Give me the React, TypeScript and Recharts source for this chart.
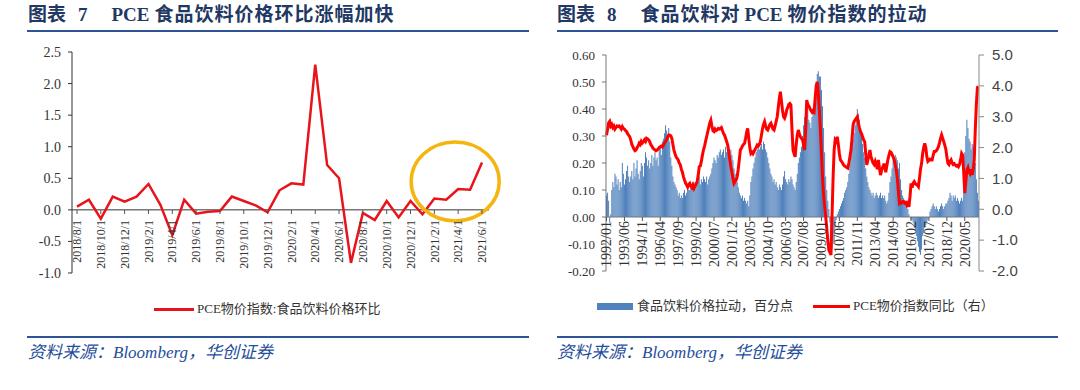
import React from "react"
import {
  LineChart,
  Line,
  ComposedChart,
  Bar,
  XAxis,
  YAxis,
  ReferenceLine,
  ReferenceDot,
} from "recharts"

// 图表7：PCE 食品饮料价格环比（%）
const leftDates = [
  "2018/8/1", "2018/9/1", "2018/10/1", "2018/11/1", "2018/12/1",
  "2019/1/1", "2019/2/1", "2019/3/1", "2019/4/1", "2019/5/1", "2019/6/1",
  "2019/7/1", "2019/8/1", "2019/9/1", "2019/10/1", "2019/11/1", "2019/12/1",
  "2020/1/1", "2020/2/1", "2020/3/1", "2020/4/1", "2020/5/1", "2020/6/1",
  "2020/7/1", "2020/8/1", "2020/9/1", "2020/10/1", "2020/11/1", "2020/12/1",
  "2021/1/1", "2021/2/1", "2021/3/1", "2021/4/1", "2021/5/1", "2021/6/1",
]
const leftValues = [
  0.05, 0.16, -0.14, 0.21, 0.13,
  0.21, 0.41, 0.08, -0.4, 0.16, -0.06,
  -0.03, -0.02, 0.21, 0.14, 0.07, -0.04,
  0.31, 0.42, 0.4, 2.3, 0.71, 0.5,
  -0.84, -0.05, -0.16, 0.14, -0.12, 0.14,
  -0.07, 0.18, 0.16, 0.33, 0.32, 0.75,
]
const leftTicks = [-1, -0.5, 0, 0.5, 1, 1.5, 2, 2.5]

// 图表8：食品饮料拉动（百分点，左轴）与 PCE 同比（%，右轴），1992/01 - 2021/06
const firstYear = 1992
const foodPull = [
  // 1992
  0.08, 0.09, 0.06, -0.02, 0.01, 0.1, 0.13, 0.11, 0.16, 0.15, 0.12, 0.14,
  // 1993
  0.1, 0.13, 0.11, 0.2, 0.16, 0.12, 0.14, 0.17, 0.19, 0.15, 0.13, 0.15,
  // 1994
  0.17, 0.14, 0.2, 0.15, 0.18, 0.21, 0.16, 0.14, 0.17, 0.2, 0.19, 0.15,
  // 1995
  0.2, 0.24, 0.22, 0.19, 0.21, 0.18, 0.2, 0.23, 0.19, 0.22, 0.24, 0.21,
  // 1996
  0.22, 0.19, 0.25, 0.26, 0.23, 0.28, 0.29, 0.31, 0.34, 0.32, 0.3, 0.33,
  // 1997
  0.28, 0.22, 0.19, 0.15, 0.13, 0.12, 0.11, 0.1, 0.08, 0.09, 0.07, 0.08,
  // 1998
  0.07, 0.09, 0.1, 0.08, 0.09, 0.11, 0.1, 0.1, 0.12, 0.11, 0.13, 0.12,
  // 1999
  0.13, 0.12, 0.14, 0.13, 0.15, 0.12, 0.14, 0.13, 0.15, 0.14, 0.13, 0.15,
  // 2000
  0.12, 0.14, 0.15, 0.16, 0.18, 0.2, 0.22, 0.21, 0.2, 0.23, 0.22, 0.24,
  // 2001
  0.25, 0.23, 0.24, 0.25, 0.22, 0.26, 0.24, 0.27, 0.26, 0.24, 0.25, 0.23,
  // 2002
  0.21, 0.18, 0.16, 0.14, 0.13, 0.11, 0.09, 0.08, 0.07, 0.08, 0.06, 0.07,
  // 2003
  0.06, 0.05, 0.06, 0.04, 0.08, 0.13, 0.15, 0.18, 0.2, 0.22, 0.24, 0.25,
  // 2004
  0.26, 0.25, 0.26, 0.27, 0.25, 0.28, 0.27, 0.25, 0.24, 0.22, 0.2, 0.18,
  // 2005
  0.16, 0.15, 0.13, 0.14, 0.12, 0.13, 0.11, 0.1, 0.12, 0.11, 0.1, 0.12,
  // 2006
  0.15, 0.17, 0.14, 0.13, 0.12, 0.14, 0.13, 0.15, 0.14, 0.12, 0.11, 0.1,
  // 2007
  0.13, 0.16, 0.2, 0.22, 0.24, 0.26, 0.3, 0.34, 0.37, 0.39, 0.38, 0.4,
  // 2008
  0.36, 0.35, 0.33, 0.37, 0.4, 0.42, 0.44, 0.48, 0.53, 0.54, 0.52, 0.52,
  // 2009
  0.47, 0.41, 0.33, 0.24, 0.15, 0.1, 0.06, 0.03, -0.02, -0.07, -0.12, -0.1,
  // 2010
  -0.09, -0.04, -0.01, 0.01, 0.02, 0.03, 0.04, 0.05, 0.06, 0.07, 0.09, 0.1,
  // 2011
  0.11, 0.13, 0.16, 0.2, 0.23, 0.26, 0.29, 0.31, 0.34, 0.37, 0.4, 0.38,
  // 2012
  0.36, 0.33, 0.3, 0.27, 0.24, 0.22, 0.18, 0.15, 0.13, 0.11, 0.1, 0.09,
  // 2013
  0.08, 0.09, 0.07, 0.08, 0.09, 0.08, 0.07, 0.08, 0.09, 0.07, 0.08, 0.07,
  // 2014
  0.08, 0.06, 0.05, 0.06, 0.09, 0.13, 0.15, 0.18, 0.21, 0.22, 0.23, 0.22,
  // 2015
  0.21, 0.18, 0.2, 0.14, 0.1, 0.08, 0.07, 0.06, 0.05, 0.04, 0.03, 0.01,
  // 2016
  0.0, -0.01, -0.01, -0.02, -0.04, -0.05, -0.07, -0.09, -0.11, -0.13, -0.14, -0.12,
  // 2017
  -0.07, -0.06, -0.04, -0.03, -0.02, -0.01, 0.0, 0.02, 0.03, 0.04, 0.05, 0.04,
  // 2018
  0.03, 0.04, 0.03, 0.02, 0.03, 0.04, 0.05, 0.04, 0.03, 0.04, 0.05, 0.05,
  // 2019
  0.06, 0.07, 0.09, 0.08, 0.06, 0.08, 0.07, 0.08, 0.06, 0.07, 0.06, 0.05,
  // 2020
  0.06, 0.07, 0.06, 0.09, 0.24, 0.3, 0.36, 0.33, 0.29, 0.28, 0.25, 0.27,
  // 2021
  0.26, 0.27, 0.2, 0.14, 0.09, 0.06,
]
const pceYoY = [
  // 1992
  2.4, 2.6, 2.8, 2.85, 2.7, 2.75, 2.65, 2.7, 2.6, 2.65, 2.7, 2.68,
  // 1993
  2.7, 2.65, 2.6, 2.68, 2.62, 2.6, 2.55, 2.52, 2.45, 2.4, 2.35, 2.25,
  // 1994
  2.1, 2.03, 1.95, 1.9, 1.92, 2.0, 2.05, 2.14, 2.1, 2.2, 2.15, 2.19,
  // 1995
  2.25, 2.2, 2.3, 2.28, 2.25, 2.19, 2.1, 2.05, 1.98, 1.95, 1.92, 1.9,
  // 1996
  1.92, 1.95, 2.0, 2.03, 2.05, 2.02, 2.08, 2.15, 2.2, 2.25, 2.35, 2.41,
  // 1997
  2.4, 2.38, 2.3, 2.1, 1.92, 1.8, 1.7, 1.65, 1.6, 1.5, 1.44, 1.3,
  // 1998
  1.2, 1.06, 0.95, 0.85, 0.79, 0.72, 0.8, 0.84, 0.75, 0.7, 0.78, 0.68,
  // 1999
  0.75, 0.82, 0.89, 1.1, 1.38, 1.4, 1.55, 1.75, 1.92, 2.05, 2.2, 2.35,
  // 2000
  2.5, 2.65, 2.8, 2.89, 2.7, 2.55, 2.52, 2.6, 2.55, 2.57, 2.62, 2.6,
  // 2001
  2.62, 2.65, 2.55, 2.46, 2.4, 2.3, 2.2, 2.08, 1.85, 1.6, 1.38, 1.2,
  // 2002
  1.0, 0.84, 0.9, 0.95, 1.06, 1.3, 1.6, 1.92, 1.98, 2.05, 2.1, 2.14,
  // 2003
  2.3, 2.5, 2.62, 2.3, 2.0, 1.81, 1.85, 1.8, 1.87, 1.95, 2.0, 2.08,
  // 2004
  2.05, 2.1, 2.19, 2.4, 2.6, 2.75, 2.84, 2.7, 2.6, 2.57, 2.65, 2.75,
  // 2005
  2.79, 2.7, 2.6, 2.57, 2.7, 2.85, 3.0, 3.3, 3.6, 3.81, 3.5, 3.22,
  // 2006
  3.0, 2.95, 3.05, 3.22, 3.3, 3.4, 3.43, 3.38, 2.6, 1.92, 1.8, 1.7,
  // 2007
  2.1, 2.4, 2.57, 2.45, 2.35, 2.3, 2.25, 2.1, 1.92, 2.6, 3.54, 3.4,
  // 2008
  3.35, 3.27, 3.2, 3.15, 3.2, 3.16, 3.6, 4.0, 4.13, 3.76, 3.2, 2.57,
  // 2009
  1.8, 1.06, 0.5, 0.1, -0.24, -0.6, -1.0, -1.32, -1.4, -1.48, -0.24, 1.0,
  // 2010
  1.92, 2.25, 2.2, 2.35, 2.1, 1.8, 1.6, 1.55, 1.5, 1.44, 1.4, 1.38,
  // 2011
  1.35, 1.33, 1.5, 1.7, 1.92, 2.3, 2.73, 2.85, 2.9, 2.95, 3.0, 2.8,
  // 2012
  2.65, 2.52, 2.45, 2.35, 2.25, 2.19, 1.8, 1.44, 1.6, 1.75, 1.92, 1.7,
  // 2013
  1.6, 1.5, 1.45, 1.55, 1.44, 1.3, 1.6, 1.35, 1.11, 1.25, 1.35, 1.44,
  // 2014
  1.44, 1.2, 1.4, 1.6, 1.75, 1.87, 1.85, 1.78, 1.7, 1.6, 1.45, 1.27,
  // 2015
  1.0, 0.6, 0.19, 0.22, 0.2, 0.25, 0.25, 0.2, 0.22, 0.14, 0.2, 0.08,
  // 2016
  0.4, 0.84, 0.7, 0.85, 0.9, 0.84, 0.8, 0.78, 0.73, 1.0, 1.3, 1.49,
  // 2017
  1.8, 2.0, 2.14, 2.0, 1.7, 1.55, 1.58, 1.62, 1.6, 1.6, 1.75, 1.87,
  // 2018
  1.87, 1.9, 1.95, 2.03, 2.15, 2.3, 2.41, 2.3, 2.2, 2.08, 1.95, 1.7,
  // 2019
  1.49, 1.45, 1.55, 1.6, 1.5, 1.45, 1.48, 1.44, 1.4, 1.42, 1.38, 1.45,
  // 2020
  1.6, 1.81, 1.75, 1.2, 0.52, 0.9, 1.27, 1.35, 1.2, 1.15, 1.3, 1.11,
  // 2021
  1.3, 1.6, 2.6, 3.4, 3.95, 3.97,
]
const rightLeftTicks = [-0.2, -0.1, 0, 0.1, 0.2, 0.3, 0.4, 0.5, 0.6]
const rightRightTicks = [-2, -1, 0, 1, 2, 3, 4, 5]

const leftData = leftDates.map((d, i) => ({ date: d, v: leftValues[i] }))
const rightData = foodPull.map((f, i) => {
  const y = firstYear + Math.floor(i / 12)
  const m = (i % 12) + 1
  return { month: `${y}/${m < 10 ? "0" + m : m}`, food: f, pce: pceYoY[i] }
})

const SERIF = "'Liberation Serif', 'Noto Sans CJK SC', serif"
const TITLE_BLUE = "#1F3864"
const LINE_BLUE = "#2F5496"

// x labels hang just under the zero line instead of the plot bottom
const ZeroTick = (props: any) => {
  const { x, y, payload, lift, size, gap } = props
  return (
    <g transform={`translate(${x},${y - lift})`}>
      <line x1={0} y1={0} x2={0} y2={4} stroke="#555" />
      <text
        transform="rotate(-90)"
        x={-gap}
        y={0}
        dy="0.35em"
        textAnchor="end"
        fontSize={size}
        fill="#333"
        fontFamily={SERIF}
      >
        {payload.value}
      </text>
    </g>
  )
}

const Ellipse = (props: any) => (
  <ellipse
    cx={props.cx - 3}
    cy={props.cy}
    rx={44}
    ry={39.5}
    fill="none"
    stroke="#F5B50F"
    strokeWidth={3.5}
  />
)

function Title({ left, children }: { left: number; children: React.ReactNode }) {
  return (
    <div
      style={{
        position: "absolute",
        left,
        top: 4,
        fontFamily: SERIF,
        fontWeight: "bold",
        fontSize: 19,
        lineHeight: "22px",
        color: TITLE_BLUE,
        whiteSpace: "pre",
      }}
    >
      {children}
    </div>
  )
}

function Rule({ left, top, width }: { left: number; top: number; width: number }) {
  return (
    <div
      style={{ position: "absolute", left, top, width, height: 2, background: LINE_BLUE }}
    />
  )
}

function Source({ left }: { left: number }) {
  return (
    <div
      style={{
        position: "absolute",
        left,
        top: 343,
        fontFamily: SERIF,
        fontStyle: "italic",
        fontSize: 17,
        lineHeight: "20px",
        color: "#1F4E9A",
        whiteSpace: "pre",
      }}
    >
      资料来源：Bloomberg，华创证券
    </div>
  )
}

const legendText: React.CSSProperties = {
  position: "absolute",
  fontFamily: SERIF,
  fontSize: 13,
  lineHeight: "16px",
  color: "#333",
  whiteSpace: "pre",
}

export default function App() {
  return (
    <div
      style={{
        position: "absolute",
        left: 0,
        top: 0,
        width: 1080,
        height: 390,
        background: "#fff",
        overflow: "hidden",
      }}
    >
      <Title left={28}>
        图表<span style={{ marginLeft: 12 }}>7</span>
        <span style={{ marginLeft: 24 }}>PCE</span>
        <span style={{ marginLeft: 5, letterSpacing: 1 }}>食品饮料价格环比涨幅加快</span>
      </Title>
      <Title left={557}>
        图表<span style={{ marginLeft: 12 }}>8</span>
        <span style={{ marginLeft: 24, letterSpacing: 1 }}>食品饮料对</span>
        <span style={{ marginLeft: 4 }}>PCE</span>
        <span style={{ marginLeft: 5, letterSpacing: 1 }}>物价指数的拉动</span>
      </Title>
      <Rule left={27} top={30} width={502} />
      <Rule left={557} top={30} width={501} />

      <div style={{ position: "absolute", left: 0, top: 0 }}>
        <LineChart
          width={540}
          height={300}
          data={leftData}
          margin={{ top: 52, right: 51, left: 22, bottom: 7 }}
        >
          <XAxis
            dataKey="date"
            interval={1}
            height={20}
            axisLine={false}
            tickLine={false}
            tickSize={0}
            tickMargin={0}
            padding={{ left: 5, right: 7 }}
            tick={<ZeroTick lift={63} gap={10} size={12} />}
          />
          <YAxis
            domain={[-1, 2.5]}
            ticks={leftTicks}
            width={50}
            tickFormatter={(v: number) => v.toFixed(1)}
            axisLine={{ stroke: "#333" }}
            tickLine={{ stroke: "#333" }}
            tickSize={4}
            tickMargin={7}
            tick={{ fontSize: 14, fill: "#333", fontFamily: SERIF }}
          />
          <ReferenceLine y={0} stroke="#333" />
          <Line
            type="linear"
            dataKey="v"
            stroke="#E8141C"
            strokeWidth={2.5}
            dot={false}
            isAnimationActive={false}
          />
          <ReferenceDot x="2021/4/1" y={0.45} shape={<Ellipse />} />
        </LineChart>
      </div>

      <div style={{ position: "absolute", left: 540, top: 0 }}>
        <ComposedChart
          width={540}
          height={300}
          data={rightData}
          barCategoryGap="4%"
          margin={{ top: 55, right: 56, left: 21, bottom: 9 }}
        >
          <XAxis
            dataKey="month"
            interval={16}
            height={20}
            axisLine={false}
            tickLine={false}
            tickSize={0}
            tickMargin={0}
            tick={<ZeroTick lift={54} gap={4} size={14} />}
          />
          <YAxis
            yAxisId="left"
            domain={[-0.2, 0.6]}
            ticks={rightLeftTicks}
            width={45}
            tickFormatter={(v: number) => v.toFixed(2)}
            axisLine={{ stroke: "#777" }}
            tickLine={{ stroke: "#777" }}
            tickSize={4}
            tickMargin={7}
            tick={{ fontSize: 13, fill: "#333", fontFamily: SERIF }}
          />
          <YAxis
            yAxisId="right"
            orientation="right"
            domain={[-2, 5]}
            ticks={rightRightTicks}
            width={45}
            tickFormatter={(v: number) => v.toFixed(1)}
            axisLine={{ stroke: "#888" }}
            tickLine={{ stroke: "#888" }}
            tickSize={5}
            tickMargin={8}
            tick={{ fontSize: 15, fill: "#444", fontFamily: "'Liberation Sans', sans-serif" }}
          />
          <ReferenceLine yAxisId="left" y={0} stroke="#777" />
          <Bar yAxisId="left" dataKey="food" fill="#4A7DBA" isAnimationActive={false} />
          <Line
            yAxisId="right"
            type="linear"
            dataKey="pce"
            stroke="#FF0000"
            strokeWidth={3}
            dot={false}
            isAnimationActive={false}
          />
        </ComposedChart>
      </div>

      {/* legends */}
      <div style={{ position: "absolute", left: 154, top: 308, width: 40, height: 3, background: "#E8141C" }} />
      <div style={{ ...legendText, left: 197, top: 301 }}>PCE物价指数:食品饮料价格环比</div>
      <div style={{ position: "absolute", left: 597, top: 303, width: 36, height: 7, background: "#4F81BD" }} />
      <div style={{ ...legendText, left: 637, top: 298 }}>食品饮料价格拉动，百分点</div>
      <div style={{ position: "absolute", left: 813, top: 305, width: 37, height: 3, background: "#FF0000" }} />
      <div style={{ ...legendText, left: 853, top: 298 }}>PCE物价指数同比（右）</div>

      <Rule left={27} top={336} width={502} />
      <Rule left={557} top={336} width={501} />
      <Source left={28} />
      <Source left={557} />
    </div>
  )
}
